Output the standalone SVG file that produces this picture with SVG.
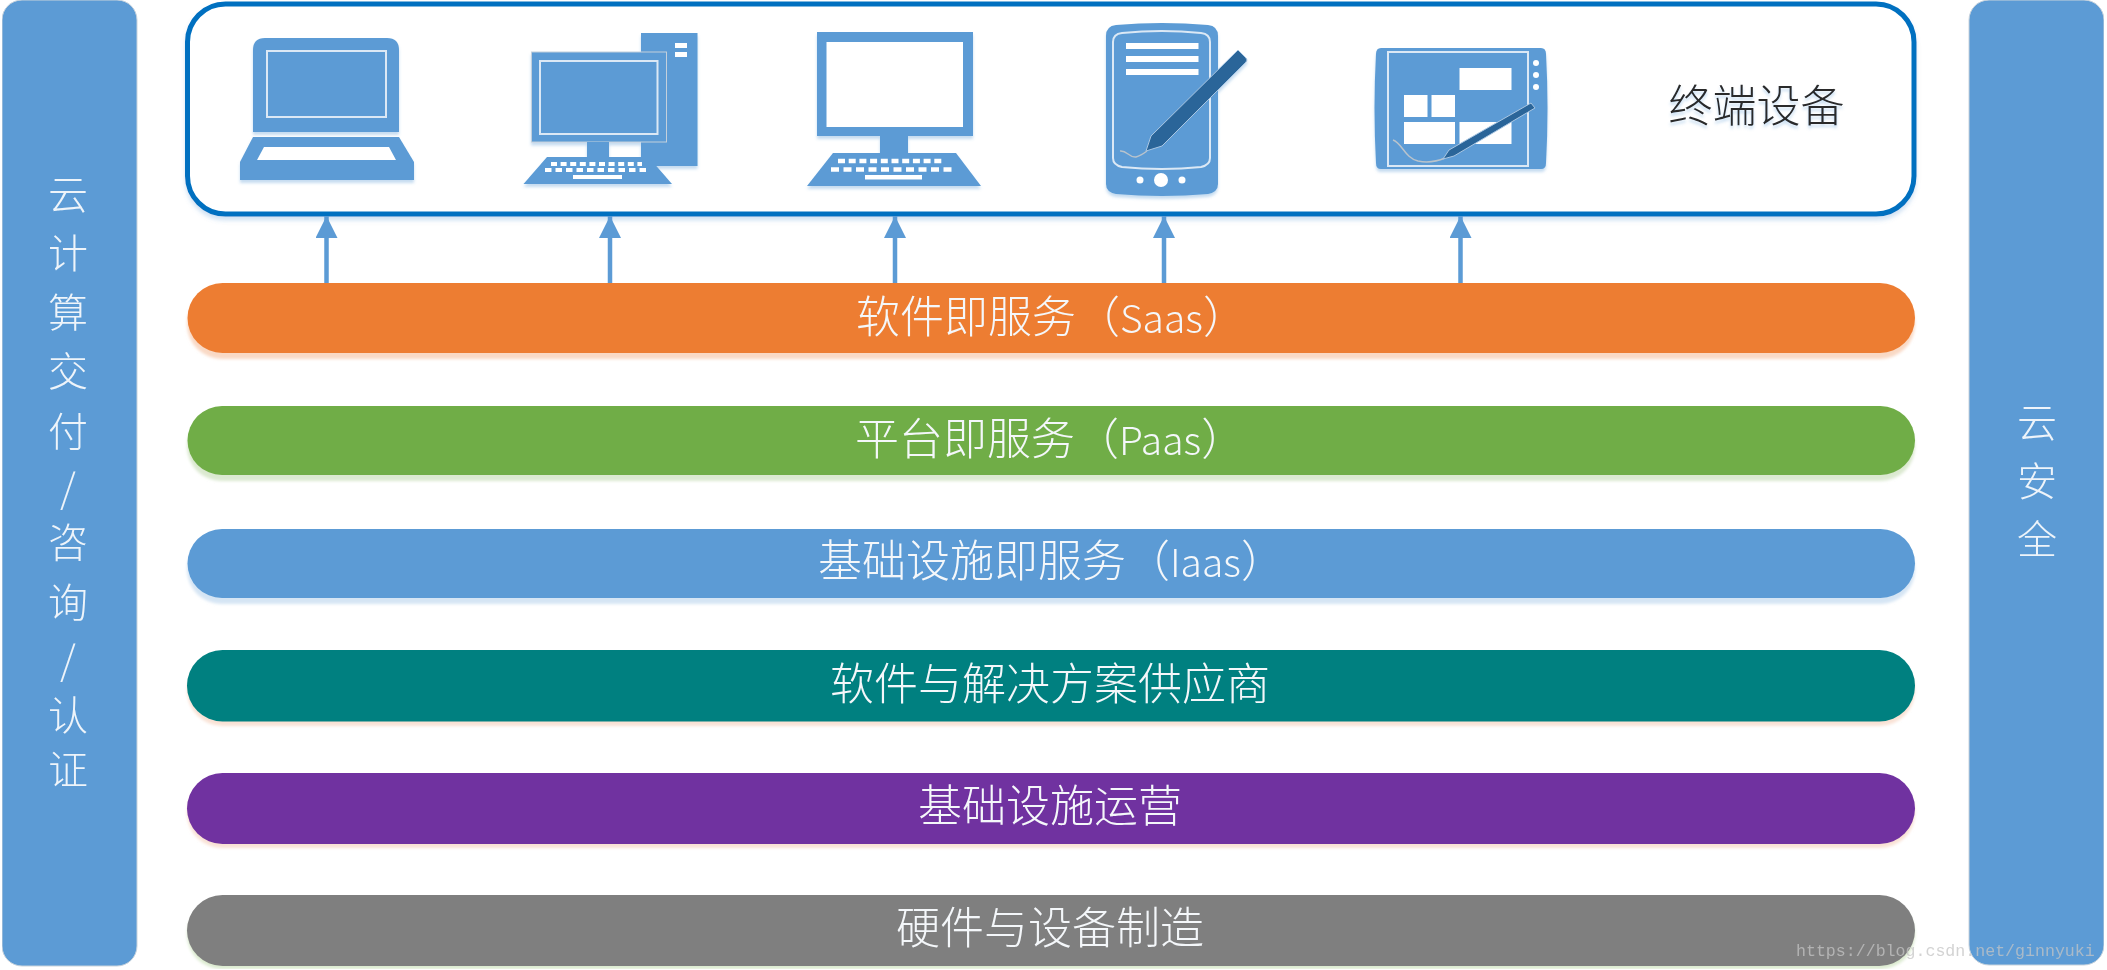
<svg xmlns="http://www.w3.org/2000/svg" width="2107" height="970" viewBox="0 0 2107 970">
<style>
text{font-family:"Noto Sans CJK SC","Noto Sans",sans-serif;font-weight:300}
.label{fill:#f4f7fa;font-size:44px;text-anchor:middle}
.lstart{fill:#f4f7fa;font-size:44px}
.lat{font-size:39px}
.side{fill:#eef4fa;font-size:40px;text-anchor:middle}
.icon{fill:#5b9bd5}
.wh{fill:#fff}
.ol{fill:none;stroke:#dbe8f5;stroke-width:2}
.key{stroke:#fff;fill:none}
.pen{stroke:#2a6599;fill:none;stroke-linecap:round}
.sq{stroke:#b9c3cc;fill:none;stroke-width:1.5}
.arrow{stroke:#5b9bd5;stroke-width:4.5;fill:none;marker-end:url(#head)}
.shadow{filter:url(#sb)}
</style>
<defs>
<marker id="head" markerUnits="userSpaceOnUse" markerWidth="24" markerHeight="22" refX="22" refY="11" orient="auto"><path d="M0 0L22 11L0 22Z" fill="#5b9bd5"/></marker>
<filter id="soft" x="0" y="0" width="100%" height="100%" filterUnits="objectBoundingBox"><feGaussianBlur stdDeviation="0.55"/></filter>
<filter id="sb" x="-5%" y="-20%" width="110%" height="140%"><feGaussianBlur stdDeviation="1.6"/></filter>
<filter id="ds" x="-5%" y="-5%" width="110%" height="115%"><feDropShadow dx="0" dy="4" stdDeviation="2" flood-color="#5b9bd5" flood-opacity=".28"/></filter>
<filter id="ts" x="-5%" y="-10%" width="110%" height="130%"><feDropShadow dx="0" dy="3" stdDeviation="1.5" flood-color="#5b9bd5" flood-opacity=".35"/></filter>
</defs>
<rect width="2107" height="970" fill="#fff"/>
<g filter="url(#soft)">
<g id="panel-left">
<rect x="2" y="0" width="135" height="966" rx="20" fill="#5b9bd5" stroke="#c9d3dc" stroke-width="1"/>
<text class="side" x="68" y="209">云</text>
<text class="side" x="68" y="268">计</text>
<text class="side" x="68" y="327">算</text>
<text class="side" x="68" y="386">交</text>
<text class="side" x="68" y="446">付</text>
<text class="side" x="68" y="503">/</text>
<text class="side" x="68" y="557">咨</text>
<text class="side" x="68" y="617">询</text>
<text class="side" x="68" y="675">/</text>
<text class="side" x="68" y="730">认</text>
<text class="side" x="68" y="784">证</text>
</g>
<g id="panel-right">
<rect x="1969" y="0" width="135" height="965" rx="20" fill="#5b9bd5" stroke="#c9d3dc" stroke-width="1"/>
<text class="side" x="2037" y="437">云</text>
<text class="side" x="2037" y="496">安</text>
<text class="side" x="2037" y="554">全</text>
</g>
<g id="terminal-frame">
<rect x="187.500" y="4" width="1726.500" height="210" rx="38" fill="#fff" stroke="#0070c0" stroke-width="5" filter="url(#ds)"/>
<text x="1756.500" y="122" font-size="44" text-anchor="middle" fill="#2a2a2a" filter="url(#ts)">终端设备</text>
</g>
<g id="laptop" filter="url(#ts)">
<path class="icon" d="M265 38H387Q399 38 399 50V132H253V50Q253 38 265 38Z"/>
<rect class="ol" x="267" y="51" width="119" height="66"/>
<path class="icon" d="M253 137H399L414 162V180H240V162Z"/>
<path class="wh" d="M264 147H389L396 160H257Z"/>
</g>
<g id="desktop" filter="url(#ts)">
<rect class="icon" x="641" y="33" width="56.500" height="133"/>
<rect class="wh" x="675" y="43" width="12" height="5"/>
<rect class="wh" x="675" y="52" width="12" height="5"/>
<rect class="icon" x="531.500" y="52" width="135" height="90" stroke="#c3d0dc" stroke-width="1"/>
<rect class="ol" x="540" y="61" width="117.500" height="73"/>
<rect class="icon" x="587" y="142" width="22" height="16"/>
<path class="icon" d="M547 157H648.500L672 184H523.500Z"/>
<path class="key" stroke-width="4" stroke-dasharray="6 3.600" d="M551 164H642"/>
<path class="key" stroke-width="4" stroke-dasharray="6.500 4" d="M545 170H649"/>
<rect class="wh" x="573" y="175" width="49" height="4"/>
</g>
<g id="monitor" filter="url(#ts)">
<rect class="icon" x="817" y="32" width="156" height="104"/>
<rect class="wh" x="826.500" y="42" width="136.500" height="85"/>
<rect class="icon" x="880" y="136" width="28" height="18"/>
<path class="icon" d="M833 153H956L981 186H807Z"/>
<path class="key" stroke-width="4.500" stroke-dasharray="7 3.700" d="M838 161H945"/>
<path class="key" stroke-width="4.500" stroke-dasharray="8 4.500" d="M831 169.500H954"/>
<rect class="wh" x="865" y="175" width="57" height="4.500"/>
</g>
<g id="phone" filter="url(#ts)">
<path class="icon" d="M1116 25Q1162 21 1208 25Q1218 26 1218 36V184Q1218 192 1208 194Q1162 198 1116 194Q1106 192 1106 184V36Q1106 26 1116 25Z"/>
<path class="ol" d="M1122 33Q1162 29 1201 33Q1210 34 1210 42V158Q1210 165 1201 167Q1162 171 1122 167Q1113 165 1113 158V42Q1113 34 1122 33Z"/>
<rect class="wh" x="1126" y="43" width="72.500" height="6"/>
<rect class="wh" x="1126" y="56" width="72.500" height="6"/>
<rect class="wh" x="1126" y="69" width="72.500" height="6"/>
<circle class="wh" cx="1140" cy="180" r="3.500"/>
<circle class="wh" cx="1161" cy="180" r="7"/>
<circle class="wh" cx="1182" cy="180" r="3.500"/>
<path class="sq" d="M1120 151C1127 150 1129 158 1136 157C1140 156 1143 154 1147 151"/>
<path d="M1238 50L1246 58Q1248 60 1246 62L1162 146L1146 151L1151 136Z" fill="#2a6599" stroke="#a9c6e2" stroke-width="1"/>
</g>
<g id="tablet" filter="url(#ts)">
<path class="icon" d="M1381 48H1541Q1546 48 1546 54Q1549 108 1546 163Q1546 169 1541 169H1381Q1376 169 1376 163Q1373 108 1376 54Q1376 48 1381 48Z"/>
<rect class="ol" x="1388" y="52" width="140" height="114"/>
<rect class="wh" x="1459.500" y="68" width="52" height="22"/>
<rect class="wh" x="1404" y="95" width="23.500" height="22"/>
<rect class="wh" x="1431.500" y="95" width="23.500" height="22"/>
<rect class="wh" x="1404" y="122" width="51" height="22"/>
<rect class="wh" x="1459.500" y="122" width="52" height="22"/>
<circle class="wh" cx="1536" cy="63" r="3"/>
<circle class="wh" cx="1536" cy="75" r="3"/>
<circle class="wh" cx="1536" cy="87" r="3"/>
<path class="sq" d="M1393 140C1402 143 1405 158 1418 161C1428 163 1438 161 1445 158"/>
<path d="M1531 103L1535 108L1454 156L1443 159L1449 150Z" fill="#2a6599" stroke="#a9c6e2" stroke-width="1"/>
</g>
<g id="connectors">
<path class="arrow" d="M326.500 283V216"/>
<path class="arrow" d="M610 283V216"/>
<path class="arrow" d="M895 283V216"/>
<path class="arrow" d="M1164 283V216"/>
<path class="arrow" d="M1460.500 283V216"/>
</g>
<g id="saas">
<rect class="shadow" x="187" y="289" width="1728" height="70" rx="35" fill="#f9d9c5"/>
<rect x="187.500" y="283" width="1727.500" height="70" rx="35" fill="#ed7d31"/>
<text class="lstart" x="856" y="333">软件即服务（<tspan class="lat">Saas</tspan>）</text>
</g>
<g id="paas">
<rect class="shadow" x="187" y="412" width="1728" height="69" rx="34.500" fill="#dbe9d0"/>
<rect x="187.500" y="406" width="1727.500" height="69" rx="34.500" fill="#70ad47"/>
<text class="lstart" x="855" y="455">平台即服务（<tspan class="lat">Paas</tspan>）</text>
</g>
<g id="iaas">
<rect class="shadow" x="187" y="535" width="1728" height="69" rx="34.500" fill="#d5e5f4"/>
<rect x="187.500" y="529" width="1727.500" height="69" rx="34.500" fill="#5b9bd5"/>
<text class="lstart" x="818" y="577">基础设施即服务（<tspan class="lat">Iaas</tspan>）</text>
</g>
<g id="software-vendors">
<rect class="shadow" x="187" y="655" width="1728" height="71" rx="35.500" fill="#f9e2d5"/>
<rect x="187" y="650" width="1728" height="71.500" rx="35.500" fill="#008080"/>
<text class="label" x="1050" y="700">软件与解决方案供应商</text>
</g>
<g id="infrastructure-operations">
<rect class="shadow" x="187" y="778" width="1728" height="70" rx="35" fill="#f9e2d5"/>
<rect x="187" y="773" width="1728" height="71" rx="35.500" fill="#7030a0"/>
<text class="label" x="1050" y="822">基础设施运营</text>
</g>
<g id="hardware-manufacturing">
<rect class="shadow" x="187" y="900" width="1728" height="69" rx="34.500" fill="#dcebd0"/>
<rect x="187" y="895" width="1728" height="71" rx="35.500" fill="#7f7f7f"/>
<text class="label" x="1050" y="944">硬件与设备制造</text>
</g>
<text id="watermark" x="1796" y="956" font-size="16.600" fill="#c4c4c4" fill-opacity=".75" style="font-family:'Liberation Mono',monospace;font-weight:400">https://blog.csdn.net/ginnyuki</text>
</g>
</svg>
